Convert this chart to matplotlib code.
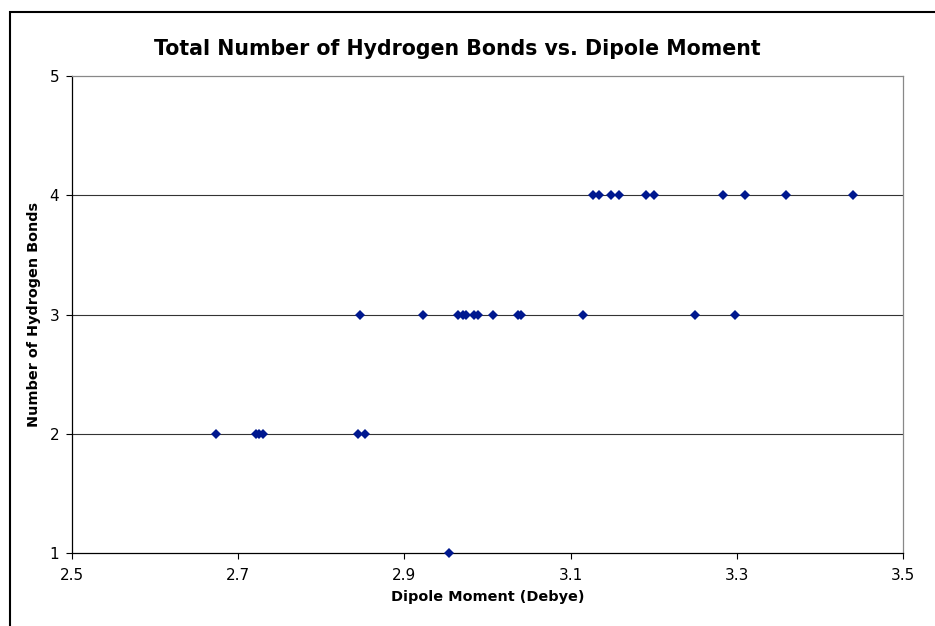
import matplotlib
matplotlib.use('Agg')
import matplotlib.pyplot as plt
from matplotlib.patches import Rectangle

# dipole moments (Debye) and hydrogen bond counts for each molecule
dipole_moment = [2.954,
                 2.674, 2.721, 2.725, 2.730, 2.844, 2.853,
                 2.847, 2.922, 2.965, 2.970, 2.974, 2.984, 2.989, 3.006,
                 3.037, 3.040, 3.115, 3.250, 3.298,
                 3.127, 3.134, 3.148, 3.158, 3.190, 3.200, 3.283, 3.310,
                 3.359, 3.439]
hydrogen_bonds = [1,
                  2, 2, 2, 2, 2, 2,
                  3, 3, 3, 3, 3, 3, 3, 3,
                  3, 3, 3, 3, 3,
                  4, 4, 4, 4, 4, 4, 4, 4,
                  4, 4]

x_ticks = [2.5, 2.7, 2.9, 3.1, 3.3, 3.5]
y_ticks = [1, 2, 3, 4, 5]

plt.rcParams['font.family'] = ['Verdana', 'DejaVu Sans']

W, H = 935, 626
fig = plt.figure(figsize=(W / 100, H / 100), dpi=100)
fig.patch.set_facecolor('white')

# chart frame (runs off the right and bottom edges)
fig.patches.append(Rectangle((10 / W, -0.1), 1.2, 1 - 12 / H + 0.1,
                             transform=fig.transFigure, fill=False,
                             edgecolor='black', linewidth=1.5))

ax = fig.add_axes([71.7 / W, (H - 553.3) / H, 831.7 / W, (553.3 - 76) / H])

for y in y_ticks[1:4]:
    ax.axhline(y, color='#333333', linewidth=0.8, zorder=1)

ax.plot(dipole_moment, hydrogen_bonds, linestyle='none', marker='D',
        markersize=5.0, color='#00188f', markeredgewidth=0, zorder=3,
        clip_on=False)

ax.set_xlim(2.5, 3.5)
ax.set_ylim(1, 5)
ax.set_xticks(x_ticks)
ax.set_yticks(y_ticks)
ax.set_xticklabels([f'{v:.1f}' for v in x_ticks])
ax.set_yticklabels([str(v) for v in y_ticks])

ax.spines['left'].set_color('black')
ax.spines['bottom'].set_color('black')
ax.spines['top'].set_color('#888888')
ax.spines['right'].set_color('#888888')
for s in ax.spines.values():
    s.set_linewidth(0.9)

ax.tick_params(axis='both', direction='out', length=4, width=0.8,
               labelsize=11)
ax.tick_params(axis='x', pad=6.5)
ax.tick_params(axis='y', pad=5)

ax.set_xlabel('Dipole Moment (Debye)', fontsize=10.4, fontweight='bold',
              labelpad=5)
ax.set_ylabel('Number of Hydrogen Bonds', fontsize=10.4, fontweight='bold',
              labelpad=6)

fig.text(457.5 / W, 1 - 49 / H, 'Total Number of Hydrogen Bonds vs. Dipole Moment',
         ha='center', va='center', fontsize=14.8, fontweight='bold')

fig.savefig('out.png', dpi=100)
